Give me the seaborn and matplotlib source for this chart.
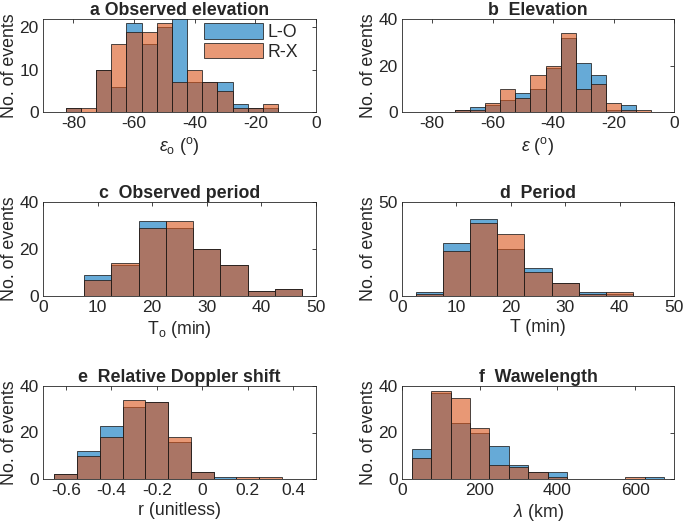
import numpy as np
import pandas as pd
import matplotlib
matplotlib.use("Agg")
import matplotlib.pyplot as plt
import seaborn as sns

# -----------------------------
# Data (counts per bin)
# -----------------------------
# a  Observed elevation (bin width 5 deg)
obs_elev_centers = [-80, -75, -70, -65, -60, -55, -50, -45, -40, -35, -30, -25, -20, -15]
obs_elev_lo = [1, 0, 10, 6, 21, 16, 20, 28, 7, 7, 7, 2, 1, 1]
obs_elev_rx = [1, 1, 10, 16, 19, 19, 21, 7, 10, 7, 5, 1, 1, 2]

# b  Elevation
elev_centers = [-70, -65, -60, -55, -50, -45, -40, -35, -30, -25, -20, -15, -10]
elev_lo = [1, 2, 3, 5, 8, 10, 19, 32, 21, 16, 1, 3, 0]
elev_rx = [1, 1, 4, 10, 6, 16, 20, 34, 10, 12, 4, 1, 1]

# c  Observed period (min)
obs_per_centers = [10, 15, 20, 25, 30, 35, 40, 45]
obs_per_lo = [9, 13, 32, 29, 20, 13, 2, 3]
obs_per_rx = [7, 14, 29, 32, 20, 13, 2, 3]

# d  Period (min)
per_centers = [5, 10, 15, 20, 25, 30, 35, 40]
per_lo = [2, 28, 41, 25, 15, 7, 2, 1]
per_rx = [1, 24, 39, 33, 13, 7, 1, 2]

# e  Relative Doppler shift
dop_centers = [-0.6, -0.5, -0.4, -0.3, -0.2, -0.1, 0.0, 0.1, 0.2, 0.3]
dop_lo = [2, 12, 23, 31, 33, 16, 3, 1, 0, 0]
dop_rx = [2, 10, 18, 34, 33, 18, 3, 0, 1, 1]

# f  Wavelength (km)
wl_centers = [50, 100, 150, 200, 250, 300, 350, 400, 450, 500, 550, 600, 650]
wl_lo = [13, 37, 24, 20, 14, 6, 3, 3, 0, 0, 0, 0, 1]
wl_rx = [9, 38, 35, 22, 6, 5, 3, 1, 0, 0, 0, 1, 0]

# -----------------------------
# Style
# -----------------------------
sns.set_style("white")
plt.rcParams["font.family"] = ["Liberation Sans", "DejaVu Sans"]
plt.rcParams["axes.unicode_minus"] = False
plt.rcParams["mathtext.fontset"] = "custom"
plt.rcParams["mathtext.rm"] = "Liberation Sans"
plt.rcParams["mathtext.it"] = "Liberation Sans:italic"

BLUE = (0.0, 0.447, 0.741)
ORANGE = (0.85, 0.325, 0.098)
GRAY = (0.15, 0.15, 0.15)
FS_TICK = 12.5
FS_LAB = 12.8
FS_TITLE = 12.8

W, H = 685, 529
fig = plt.figure(figsize=(W / 100, H / 100), dpi=100)


def make_ax(left, top, right, bottom):
    return fig.add_axes([left / W, 1 - bottom / H, (right - left) / W, (bottom - top) / H])


def hist_panel(ax, centers, lo, rx, width):
    c = np.array(centers, dtype=float)
    edges = list(np.append(c - width / 2, c[-1] + width / 2))
    for vals, col, lab in [(lo, BLUE, "L-O"), (rx, ORANGE, "R-X")]:
        df = pd.DataFrame({"x": c, "n": np.array(vals, dtype=float)})
        n0 = len(ax.patches)
        sns.histplot(data=df, x="x", weights="n", bins=edges, ax=ax,
                     color=col, edgecolor="black", linewidth=0.6)
        new = ax.patches[n0:]
        for p in new:
            p.set_alpha(None)
            p.set_facecolor((*col, 0.6))
            p.set_edgecolor((0.1, 0.1, 0.1, 0.9))
        new[0].set_label(lab)


def style_ax(ax, title, xlabel, xlim, xticks, ylim, yticks):
    ax.set_xlim(xlim)
    ax.set_ylim(ylim)
    ax.set_xticks(xticks)
    ax.set_yticks(yticks)
    ax.set_title(title, fontsize=FS_TITLE, fontweight="bold", pad=3)
    ax.set_xlabel(xlabel, fontsize=FS_LAB, color=GRAY, labelpad=3)
    ax.set_ylabel("No. of events", fontsize=FS_LAB, color=GRAY, labelpad=1)
    ax.tick_params(direction="in", length=3, width=0.6, colors=GRAY,
                   labelsize=FS_TICK, top=True, right=True, pad=3)
    for s in ax.spines.values():
        s.set_color(GRAY)
        s.set_linewidth(0.6)
        s.set_visible(True)


# -----------------------------
# Panels
# -----------------------------
ax_a = make_ax(43, 19, 316, 112)
hist_panel(ax_a, obs_elev_centers, obs_elev_lo, obs_elev_rx, 5)
style_ax(ax_a, "a Observed elevation", r"$\epsilon_{\rm o}$ ($^{\rm o}$)",
         (-90, 0), [-80, -60, -40, -20, 0], (0, 22), [0, 10, 20])
ax_a.legend(loc="upper left", bbox_to_anchor=(0.59, 0.96), frameon=False,
            fontsize=FS_LAB, handlelength=3.3, handleheight=1.0, labelspacing=0.1,
            borderaxespad=0, borderpad=0, handletextpad=0.25)

ax_b = make_ax(402, 19, 674, 112)
hist_panel(ax_b, elev_centers, elev_lo, elev_rx, 5)
style_ax(ax_b, "b  Elevation", r"$\epsilon$ ($^{\rm o}$)",
         (-90, 0), [-80, -60, -40, -20, 0], (0, 40), [0, 20, 40])

ax_c = make_ax(43, 202, 316, 296)
hist_panel(ax_c, obs_per_centers, obs_per_lo, obs_per_rx, 5)
style_ax(ax_c, "c  Observed period", r"T$_{\rm o}$ (min)",
         (0, 50), [0, 10, 20, 30, 40, 50], (0, 40), [0, 20, 40])

ax_d = make_ax(402, 202, 674, 296)
hist_panel(ax_d, per_centers, per_lo, per_rx, 5)
style_ax(ax_d, "d  Period", "T (min)",
         (0, 50), [0, 10, 20, 30, 40, 50], (0, 50), [0, 50])

ax_e = make_ax(43, 386, 316, 479)
hist_panel(ax_e, dop_centers, dop_lo, dop_rx, 0.1)
style_ax(ax_e, "e  Relative Doppler shift", "r (unitless)",
         (-0.7, 0.5), [-0.6, -0.4, -0.2, 0, 0.2, 0.4], (0, 40), [0, 20, 40])
ax_e.set_xticklabels(["-0.6", "-0.4", "-0.2", "0", "0.2", "0.4"])

ax_f = make_ax(402, 386, 674, 479)
hist_panel(ax_f, wl_centers, wl_lo, wl_rx, 50)
style_ax(ax_f, "f  Wawelength", r"$\lambda$ (km)",
         (0, 700), [0, 200, 400, 600], (0, 40), [0, 20, 40])

fig.savefig("out.png", dpi=100)
